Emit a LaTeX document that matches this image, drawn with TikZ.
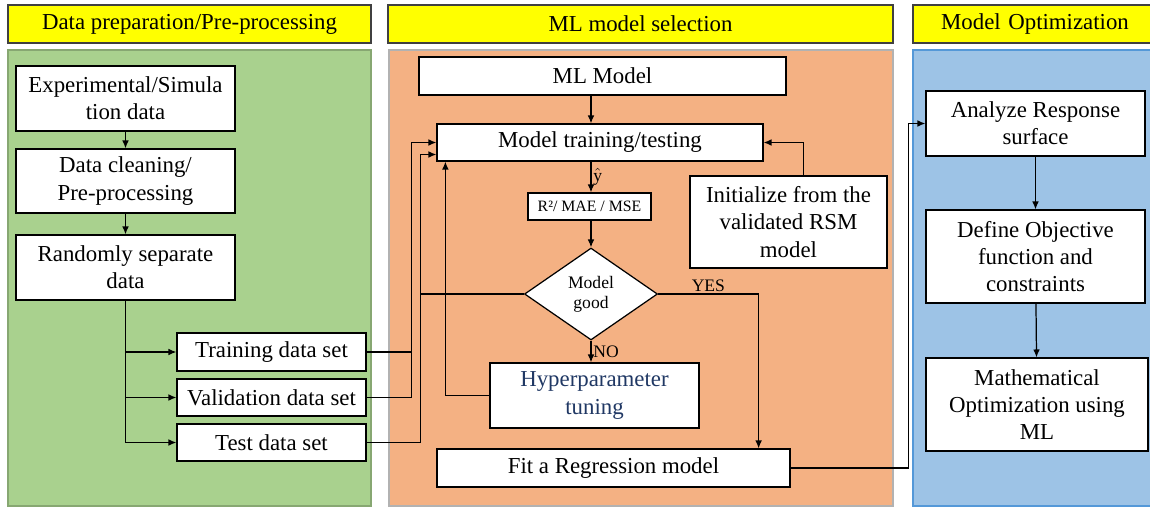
\documentclass[tikz,border=0pt]{standalone}
\usepackage{fontspec}
\setmainfont{Liberation Serif}
\usetikzlibrary{arrows.meta,shapes.geometric}
\definecolor{hdryellow}{HTML}{FFFF00}
\definecolor{prepgreen}{HTML}{A9D18E}
\definecolor{selorange}{HTML}{F4B183}
\definecolor{optblue}{HTML}{9DC3E6}
\definecolor{tunenavy}{HTML}{203864}
\begin{document}
\begin{tikzpicture}[x=0.02cm,y=-0.02cm,line width=0.7pt,>={Latex[length=4.5pt,width=3.8pt]},
				every node/.style={font=\fontsize{13}{15.5}\selectfont,align=center,inner sep=1pt},
				header/.style={draw=black!75,fill=hdryellow,minimum height=38*0.02cm},
				box/.style 2 args={draw,fill=white,minimum width=#1*0.02cm,minimum height=#2*0.02cm},
				small/.style={font=\fontsize{10}{11.5}\selectfont}]
\useasboundingbox (0,0) rectangle (1150,507);
% panels
\fill[prepgreen,draw=prepgreen!80!black] (8,50) rectangle (371,506);
\fill[selorange,draw=black!30] (389,50) rectangle (893,506);
\fill[optblue,draw=cyan!60!blue!70] (913,50) rectangle (1156,506);
\node[header,minimum width=363*0.02cm] (hprep) at (189.5,24) {Data preparation/Pre-processing};
\node[header,minimum width=505*0.02cm] (hsel) at (640.5,24) {ML model selection};
\node[header,minimum width=244*0.02cm,text width=214*0.02cm] (hopt) at (1035,24) {Model Optimization};
% data preparation
\node[box={219}{65}] (exp) at (125.5,98.5) {Experimental/Simula\\tion data};
\node[box={219}{64}] (clean) at (125.5,181) {Data cleaning/\\Pre-processing};
\node[box={219}{65}] (rand) at (125.5,267.5) {Randomly separate\\data};
\node[box={189}{38}] (train) at (271.5,352) {Training data set};
\node[box={189}{37}] (valid) at (271.5,397.5) {Validation data set};
\node[box={189}{37}] (test) at (271.5,442.5) {Test data set};
% model selection
\node[box={367}{38}] (mlm) at (602.5,76) {ML Model};
\node[box={326}{37}] (mtt) at (600,142.5) {Model training/testing};
\node[box={123}{27},font=\fontsize{9}{10}\selectfont] (met) at (589.5,206.5) {R²/ MAE / MSE};
\node[diamond,draw,fill=white,aspect=1.45,inner sep=0pt,minimum width=133*0.02cm,minimum height=92*0.02cm,small] (good) at (591,294) {Model\\good};
\node[box={209}{65},text=tunenavy] (hyp) at (594.5,395.5) {Hyperparameter\\tuning};
\node[box={353}{38}] (fit) at (613.5,468) {Fit a Regression model};
\node[box={197}{92}] (init) at (788.5,222) {Initialize from the\\validated RSM\\model};
% optimization
\node[box={219}{65}] (ars) at (1035.5,123.5) {Analyze Response\\surface};
\node[box={219}{93}] (dof) at (1035.5,256.5) {Define Objective\\function and\\constraints};
\node[box={222}{93}] (mopt) at (1037,404.5) {Mathematical\\Optimization using\\ML};
% connectors
\draw[->] (exp) -- (clean);
\draw[->] (clean) -- (rand);
\draw[->] (rand.south) |- (test.west);
\draw[->] (rand.south |- train.west) -- (train.west);
\draw[->] (rand.south |- valid.west) -- (valid.west);
\draw[->] (train.east) -- ++(45,0) |- (mtt.west);
\draw (valid.east) -- ++(45,0) -- ++(0,-45);
\draw[->] (test.east) -- ++(54,0) |- ([yshift=-12*0.02cm]mtt.west);
\draw (good.west) -- ++(-104,0);
\draw[->] (hyp.west) -| ([xshift=9*0.02cm]mtt.south west);
\draw[->] (mlm.south -| good) -- (mtt.north -| good);
\draw[->] (mtt.south -| good) -- node[right,small]{$\hat{\mathrm{y}}$} (met.north -| good);
\draw[->] (met.south -| good) -- (good.north);
\draw[->] (good.south) -- node[right,small]{NO} (hyp.north -| good);
\draw[->] (good.east) -| node[pos=0.25,above,small]{YES} ([xshift=-32*0.02cm]fit.north east);
\draw[->] ([xshift=15*0.02cm]init.north) |- (mtt.east);
\draw[->] (fit.east) -- ++(118,0) |- (ars.west);
\draw[->] (ars) -- (dof);
\draw[->] (dof) -- (mopt);
\end{tikzpicture}
\end{document}
